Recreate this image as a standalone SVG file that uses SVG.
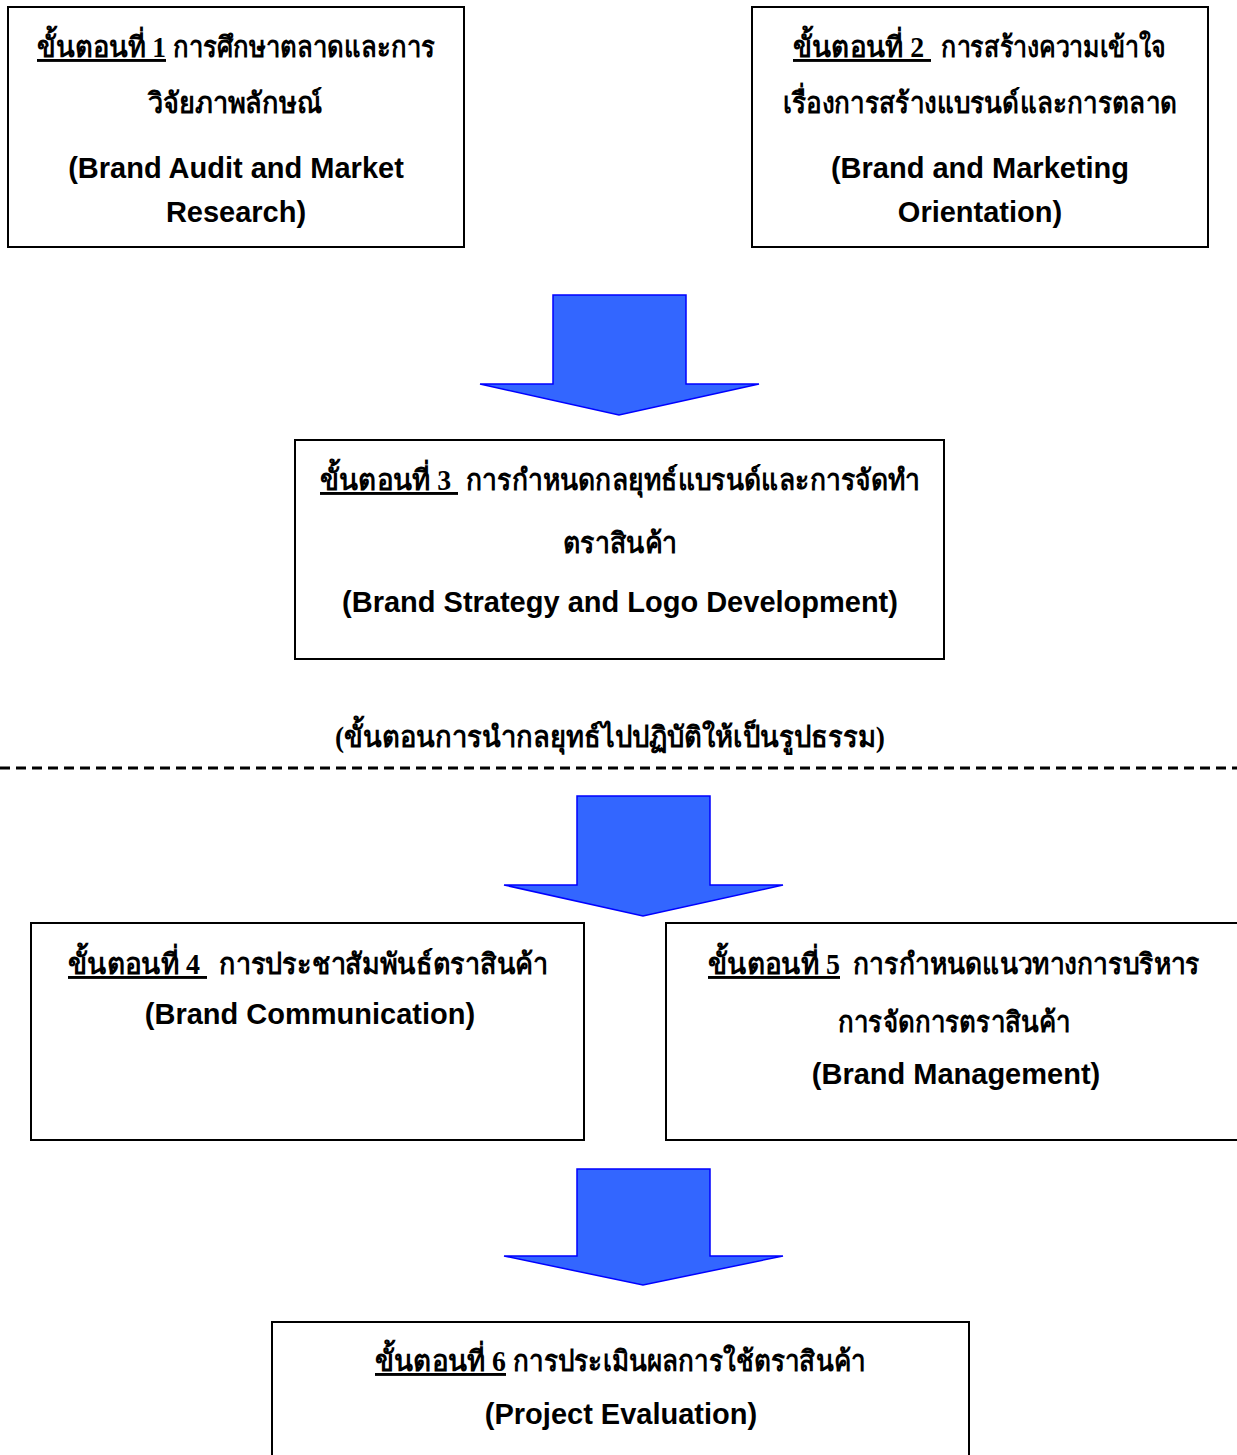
<svg xmlns="http://www.w3.org/2000/svg" width="1237" height="1455" viewBox="0 0 1237 1455">
<style>
.box{fill:#fff;stroke:#000;stroke-width:2}
.arrow{fill:#3366FF;stroke:#0000FF;stroke-width:1.5;stroke-linejoin:miter}
.th{font-family:"Liberation Serif","Noto Sans",serif;font-weight:bold;font-size:29px;fill:#000;text-anchor:middle}
.st{text-anchor:start}
.en{font-family:"Liberation Sans",Arial,sans-serif;font-weight:bold;font-size:29px;fill:#000;text-anchor:middle}
.u{text-decoration:underline}
.dash{stroke:#000;stroke-width:3;stroke-dasharray:10 6;fill:none}
</style>
<rect width="1237" height="1455" fill="#fff"/>
<g id="step1">
<rect class="box" x="8" y="7" width="456" height="240"/>
<text class="th st u" x="37" y="57" textLength="129" lengthAdjust="spacingAndGlyphs">ขั้นตอนที่ 1</text>
<text class="th st" x="173" y="57" textLength="262" lengthAdjust="spacingAndGlyphs">การศึกษาตลาดและการ</text>
<text class="th" x="235" y="113" textLength="174" lengthAdjust="spacingAndGlyphs">วิจัยภาพลักษณ์</text>
<text class="en" x="236" y="178">(Brand Audit and Market</text>
<text class="en" x="236" y="222">Research)</text>
</g>
<g id="step2">
<rect class="box" x="752" y="7" width="456" height="240"/>
<text class="th st u" x="793" y="57" textLength="138" lengthAdjust="spacingAndGlyphs">ขั้นตอนที่ 2&#160;</text>
<text class="th st" x="941" y="57" textLength="225" lengthAdjust="spacingAndGlyphs">การสร้างความเข้าใจ</text>
<text class="th" x="980" y="113" textLength="394" lengthAdjust="spacingAndGlyphs">เรื่องการสร้างแบรนด์และการตลาด</text>
<text class="en" x="980" y="178">(Brand and Marketing</text>
<text class="en" x="980" y="222">Orientation)</text>
</g>
<g id="step3">
<rect class="box" x="295" y="440" width="649" height="219"/>
<text class="th st u" x="320" y="490" textLength="138" lengthAdjust="spacingAndGlyphs">ขั้นตอนที่ 3&#160;</text>
<text class="th st" x="466" y="490" textLength="454" lengthAdjust="spacingAndGlyphs">การกำหนดกลยุทธ์แบรนด์และการจัดทำ</text>
<text class="th" x="620" y="553" textLength="114" lengthAdjust="spacingAndGlyphs">ตราสินค้า</text>
<text class="en" x="620" y="612">(Brand Strategy and Logo Development)</text>
</g>
<g id="phase-label">
<text class="th" x="610" y="747" textLength="550" lengthAdjust="spacingAndGlyphs">(ขั้นตอนการนำกลยุทธ์ไปปฏิบัติให้เป็นรูปธรรม)</text>
</g>
<g id="step4">
<rect class="box" x="31" y="923" width="553" height="217"/>
<text class="th st u" x="68" y="974" textLength="139" lengthAdjust="spacingAndGlyphs">ขั้นตอนที่ 4&#160;</text>
<text class="th st" x="219" y="974" textLength="329" lengthAdjust="spacingAndGlyphs">การประชาสัมพันธ์ตราสินค้า</text>
<text class="en" x="310" y="1024">(Brand Communication)</text>
</g>
<g id="step5">
<rect class="box" x="666" y="923" width="600" height="217"/>
<text class="th st u" x="708" y="974" textLength="132" lengthAdjust="spacingAndGlyphs">ขั้นตอนที่ 5</text>
<text class="th st" x="853" y="974" textLength="347" lengthAdjust="spacingAndGlyphs">การกำหนดแนวทางการบริหาร</text>
<text class="th" x="954" y="1032" textLength="232" lengthAdjust="spacingAndGlyphs">การจัดการตราสินค้า</text>
<text class="en" x="956" y="1084">(Brand Management)</text>
</g>
<g id="step6">
<rect class="box" x="272" y="1322" width="697" height="200"/>
<text class="th st u" x="375" y="1371" textLength="131" lengthAdjust="spacingAndGlyphs">ขั้นตอนที่ 6</text>
<text class="th st" x="513" y="1371" textLength="352" lengthAdjust="spacingAndGlyphs">การประเมินผลการใช้ตราสินค้า</text>
<text class="en" x="621" y="1424">(Project Evaluation)</text>
</g>
<g id="connectors">
<line class="dash" x1="0" y1="768" x2="1237" y2="768"/>
<polygon class="arrow" points="553,295 686,295 686,384 759,384 619,415 480,384 553,384"/>
<polygon class="arrow" points="577,796 710,796 710,885 783,885 643,916 504,885 577,885"/>
<polygon class="arrow" points="577,1169 710,1169 710,1256 783,1256 643,1285 504,1256 577,1256"/>
</g>
</svg>
